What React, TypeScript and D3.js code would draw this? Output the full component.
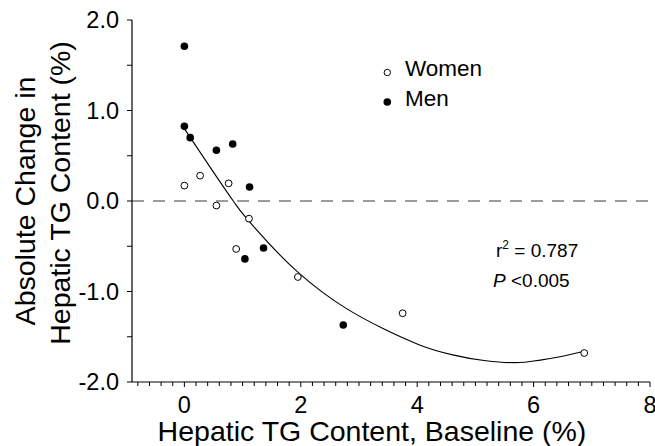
import React from 'react'
import * as d3 from 'd3'

// values
const womenX = [0, 0.27, 0.55, 0.76, 0.89, 1.11, 1.95, 3.75, 6.87]
const womenY = [0.17, 0.28, -0.05, 0.195, -0.53, -0.195, -0.84, -1.24, -1.68]
const menX = [0, 0, 0.1, 0.55, 0.83, 1.12, 1.04, 1.36, 2.73]
const menY = [1.71, 0.825, 0.7, 0.56, 0.63, 0.155, -0.64, -0.52, -1.37]

// regression curve, sampled from the figure
const fitX = [0, 0.84, 1.04, 1.94, 2.8, 4.04, 4.61, 5.18, 5.75, 6.33, 6.87]
const fitY = [0.8, 0, -0.17, -0.78, -1.195, -1.59, -1.7, -1.765, -1.785, -1.735, -1.66]

const xTickLabels = [0, 2, 4, 6, 8]
const yTickLabels = [-2, -1, 0, 1, 2]

const font = 'Liberation Sans, Arial, Helvetica, sans-serif'

export default function App() {
  const width = 655
  const height = 446

  const x = d3.scaleLinear().domain([-0.9, 8]).range([132, 650])
  const y = d3.scaleLinear().domain([-2, 2]).range([382, 20])

  const minorX = d3.range(-0.8, 8.01, 0.2)
  const minorY = d3.range(-2, 2.01, 0.5)

  const women = womenX.map((v, i) => ({ x: v, y: womenY[i] }))
  const men = menX.map((v, i) => ({ x: v, y: menY[i] }))
  const fit = fitX.map((v, i) => [v, fitY[i]] as [number, number])

  const line = d3
    .line<[number, number]>()
    .x(d => x(d[0]))
    .y(d => y(d[1]))
    .curve(d3.curveCatmullRom)

  return (
    <svg
      width={width}
      height={height}
      style={{ position: 'absolute', left: 0, top: 0, background: '#fff' }}
      fontFamily={font}
    >
      {/* zero line */}
      <line
        x1={x(-0.9)}
        x2={x(8)}
        y1={y(0)}
        y2={y(0)}
        stroke="#3a3a3a"
        strokeWidth={1.2}
        strokeDasharray="12,9"
      />

      {/* axes */}
      <line x1={132} x2={132} y1={y(2)} y2={y(-2)} stroke="#000" strokeWidth={1.2} />
      <line x1={132} x2={x(8)} y1={y(-2)} y2={y(-2)} stroke="#000" strokeWidth={1.2} />

      {minorY.map((t, i) => (
        <line key={'yt' + i} x1={127} x2={132} y1={y(t)} y2={y(t)} stroke="#000" />
      ))}
      {yTickLabels.map(t => (
        <text
          key={'yl' + t}
          x={119}
          y={y(t)}
          dy="0.36em"
          textAnchor="end"
          fontSize={23.5}
        >
          {t.toFixed(1)}
        </text>
      ))}

      {minorX.map((t, i) => (
        <line
          key={'xt' + i}
          x1={x(t)}
          x2={x(t)}
          y1={y(-2)}
          y2={y(-2) + (Math.abs(t - Math.round(t)) < 0.01 && Math.round(t) % 2 === 0 ? 5 : 4)}
          stroke="#000"
        />
      ))}
      {xTickLabels.map(t => (
        <text key={'xl' + t} x={x(t)} y={413} textAnchor="middle" fontSize={23.5}>
          {t}
        </text>
      ))}

      {/* axis titles */}
      <text x={372} y={441} textAnchor="middle" fontSize={28.5}>
        Hepatic TG Content, Baseline (%)
      </text>
      <text
        transform="translate(35,201) rotate(-90)"
        textAnchor="middle"
        fontSize={28.5}
      >
        Absolute Change in
      </text>
      <text
        transform="translate(70,193) rotate(-90)"
        textAnchor="middle"
        fontSize={28.5}
      >
        Hepatic TG Content (%)
      </text>

      {/* fit */}
      <path d={line(fit) || ''} fill="none" stroke="#000" strokeWidth={1.1} />

      {/* points */}
      {women.map((d, i) => (
        <circle
          key={'w' + i}
          cx={x(d.x)}
          cy={y(d.y)}
          r={3.4}
          fill="#fff"
          stroke="#000"
          strokeWidth={1}
        />
      ))}
      {men.map((d, i) => (
        <circle key={'m' + i} cx={x(d.x)} cy={y(d.y)} r={3.8} fill="#000" />
      ))}

      {/* legend */}
      <circle cx={387.3} cy={72.5} r={3.2} fill="#fff" stroke="#000" />
      <text x={405} y={76} fontSize={22.5}>
        Women
      </text>
      <circle cx={387.3} cy={102} r={3.8} fill="#000" />
      <text x={405} y={106} fontSize={22.5}>
        Men
      </text>

      {/* stats */}
      <text x={496} y={257} fontSize={19}>
        r<tspan fontSize={12} dy={-8}>2</tspan>
        <tspan dy={8}> = 0.787</tspan>
      </text>
      <text x={493} y={287} fontSize={19}>
        <tspan fontStyle="italic">P</tspan> &lt;0.005
      </text>
    </svg>
  )
}
